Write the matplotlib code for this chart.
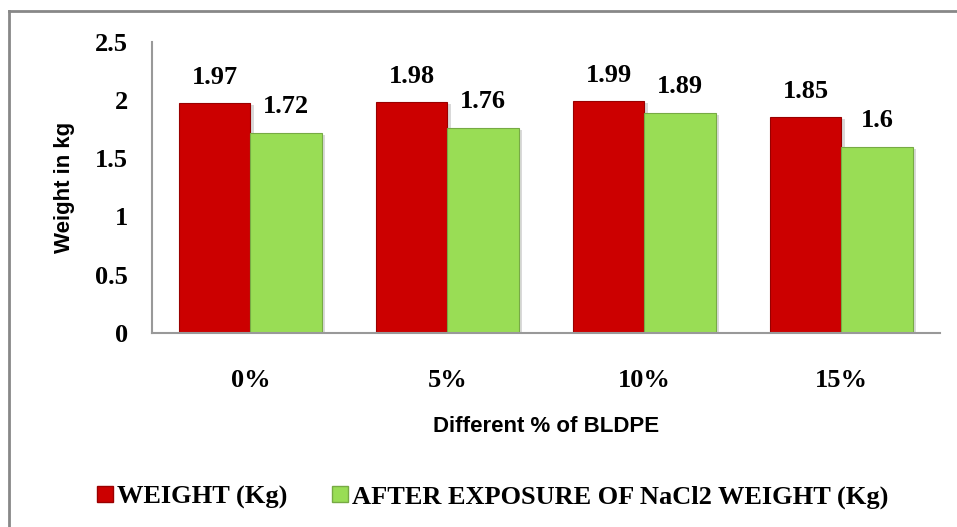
import numpy as np
import matplotlib.pyplot as plt
import matplotlib.patheffects as pe
from matplotlib.lines import Line2D
from matplotlib.patches import Patch

categories = ['0%', '5%', '10%', '15%']
weight = [1.97, 1.98, 1.99, 1.85]
after_nacl = [1.72, 1.76, 1.89, 1.6]
series_names = ['WEIGHT (Kg)', 'AFTER EXPOSURE OF NaCl2 WEIGHT (Kg)']
yticks = [0, 0.5, 1, 1.5, 2, 2.5]

red = '#CC0000'
green = '#99DD55'
serif = 'Liberation Serif'
sans = 'Liberation Sans'

fig = plt.figure(figsize=(9.57, 5.27), dpi=100)
ax = fig.add_axes([0.1588, 0.368, 0.8234, 0.553])

x = np.arange(len(categories))
w = 0.362
shadow = [pe.SimplePatchShadow(offset=(2.5, -1.5), shadow_rgbFace='#000000', alpha=0.15),
          pe.Normal()]
b1 = ax.bar(x - w / 2, weight, w, color=red, edgecolor='#990000', linewidth=0.8)
b2 = ax.bar(x + w / 2, after_nacl, w, color=green, edgecolor='#77AA44', linewidth=0.8)
for rect in list(b1) + list(b2):
    rect.set_path_effects(shadow)

for bars, vals in ((b1, weight), (b2, after_nacl)):
    for rect, v in zip(bars, vals):
        ax.annotate(f'{v:g}', (rect.get_x() + rect.get_width() / 2, v),
                    xytext=(0, 10.5), textcoords='offset points',
                    ha='center', va='bottom', fontsize=19,
                    fontweight='bold', family=serif)

ax.set_xlim(-0.5, len(categories) - 0.5)
ax.set_ylim(0, 2.5)
ax.set_yticks(yticks)
ax.set_yticklabels([f'{t:g}' for t in yticks])
ax.set_xticks(x)
ax.set_xticklabels(categories)
ax.tick_params(axis='both', length=0, labelsize=19)
ax.tick_params(axis='x', pad=26)
ax.tick_params(axis='y', pad=17)
for lab in ax.get_xticklabels() + ax.get_yticklabels():
    lab.set_family(serif)
    lab.set_fontweight('bold')

for s in ('top', 'right'):
    ax.spines[s].set_visible(False)
for s in ('left', 'bottom'):
    ax.spines[s].set_color('#999999')
    ax.spines[s].set_linewidth(1.5)

ax.set_xlabel('Different % of BLDPE', family=sans, fontweight='bold',
              fontsize=16, labelpad=17)
ax.set_ylabel('Weight in kg', family=sans, fontweight='bold',
              fontsize=16, labelpad=15)

# outer chart border (left and top edges only)
fig.add_artist(Line2D([9 / 957, 9 / 957], [0, 1 - 11 / 527],
                      transform=fig.transFigure, color='#888888', lw=2))
fig.add_artist(Line2D([9 / 957, 1], [1 - 11 / 527, 1 - 11 / 527],
                      transform=fig.transFigure, color='#888888', lw=2))

handles = [Patch(facecolor=red, edgecolor='#990000'),
           Patch(facecolor=green, edgecolor='#77AA44')]
fig.legend(handles, series_names, loc='center', bbox_to_anchor=(0.515, 0.057),
           ncol=2, frameon=False, handlelength=0.6, handleheight=0.6,
           handletextpad=0.15, columnspacing=1.7,
           prop={'family': serif, 'weight': 'bold', 'size': 19})

fig.savefig('out.png', dpi=100, facecolor='white')
